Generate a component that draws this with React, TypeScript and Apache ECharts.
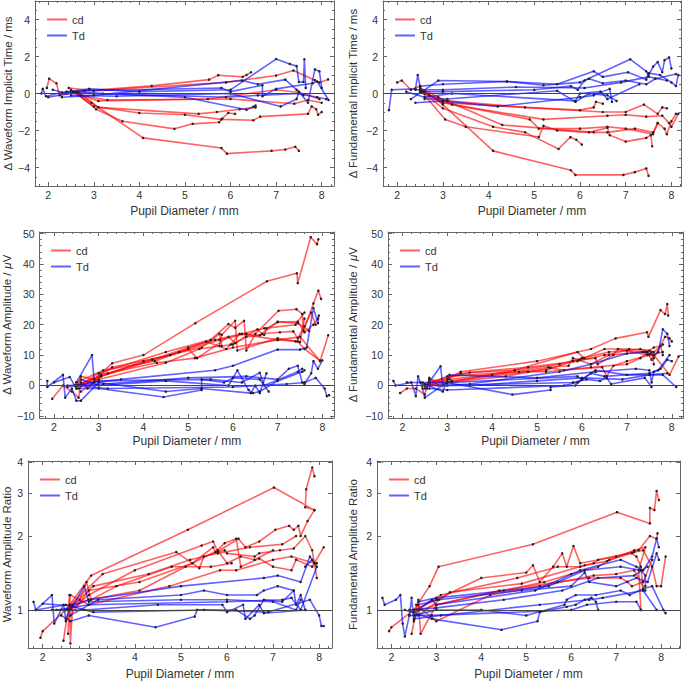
import React, { useEffect, useRef } from 'react';
import * as echarts from 'echarts';

type Pt = [number, number];
type Line = Pt[];

// ---------- data (pupil diameter mm, value) ----------
const wfImplicitCd: Line[] = [
  [[2.55, 0.1], [2.95, -0.5], [4.08, -2.4], [5.8, -2.95], [5.92, -3.25], [6.9, -3.1], [7.2, -3.03], [7.42, -2.88], [7.5, -3.1]],
  [[2.6, 0.05], [3.05, -0.85], [3.63, -1.5], [4.77, -1.91], [5.17, -1.64], [5.75, -1.55], [5.82, -1.35], [5.95, -1.05], [6.1, -1.1]],
  [[2.5, 0.2], [3.0, -0.7], [4.0, -1.05], [5.0, -1.15], [5.8, -1.4], [6.5, -1.45], [6.65, -1.25], [7.7, -1.1], [7.78, -0.7], [7.88, -0.85], [7.92, -1.15], [8.0, -1.0]],
  [[2.65, 0.1], [3.1, -0.75], [5.3, -1.1], [5.7, -1.0], [6.2, -0.85], [6.55, -0.75]],
  [[1.97, 0.3], [2.02, 0.8], [2.18, 0.55], [2.25, -0.1], [2.6, 0.1], [4.27, 0.41], [5.53, 0.75], [5.73, 0.99], [6.27, 0.9], [6.35, 1.0], [6.45, 1.15]],
  [[2.45, 0.3], [3.0, 0.15], [5.9, 0.6], [7.0, 0.97], [7.38, 1.24], [7.85, 0.72], [7.95, 0.6], [8.14, 0.76]],
  [[2.55, 0.05], [3.1, -0.4], [5.5, -0.3], [7.0, 0.2], [7.5, 0.05], [7.95, -0.3]],
  [[2.7, -0.1], [3.3, -0.35], [6.0, -0.3], [7.4, -0.55], [7.7, -0.35], [8.0, -0.5]],
];
const wfImplicitTd: Line[] = [
  [[1.85, 0.0], [1.88, 0.25], [1.95, -0.15], [2.3, 0.05], [2.9, 0.25], [4.0, 0.1], [6.0, 0.2], [7.0, 1.86], [7.3, 1.6], [7.45, 1.48], [7.5, 0.62], [7.6, 0.62], [7.62, 1.85], [7.65, 0.3]],
  [[2.1, 0.2], [2.4, 0.0], [3.0, 0.0], [5.0, -0.2], [6.35, -0.88], [6.5, -0.72], [6.55, -0.65]],
  [[2.5, -0.1], [3.5, -0.15], [6.0, 0.0], [7.1, -0.7], [7.45, -0.3], [7.5, 0.1], [7.7, -0.5], [7.85, 1.3], [7.95, 1.2], [8.0, 0.3]],
  [[2.3, -0.2], [3.0, -0.1], [6.25, 0.7], [6.6, 0.5], [7.2, 0.75], [7.45, 0.2], [7.6, -0.1]],
  [[2.0, -0.2], [2.8, 0.15], [5.8, 0.3], [6.0, 0.1], [6.7, 0.45], [6.7, -0.15], [7.0, 0.25], [7.8, 0.55], [7.9, 0.65], [8.15, -0.35]],
  [[2.4, 0.1], [3.2, 0.0], [5.9, -0.2], [6.6, -0.1], [7.5, 0.0], [7.9, -0.2], [8.1, -0.3]],
];

const fdImplicitCd: Line[] = [
  [[2.6, 0.1], [3.0, -0.6], [4.1, -3.1], [5.8, -4.15], [5.9, -4.4], [6.95, -4.4], [7.2, -4.25], [7.45, -4.05], [7.5, -4.45]],
  [[2.5, 0.2], [3.05, -1.4], [3.5, -1.8], [5.1, -2.35], [5.2, -1.75], [5.5, -2.0], [6.2, -2.1], [6.6, -1.85], [6.65, -2.25], [7.0, -2.6], [7.45, -2.4], [7.55, -2.25], [7.58, -2.85]],
  [[2.55, 0.1], [3.0, -0.8], [4.1, -1.8], [4.8, -2.1], [5.53, -3.0], [5.79, -2.36], [5.92, -2.5], [6.04, -2.76]],
  [[2.5, 0.2], [3.0, -0.5], [4.9, -1.4], [5.1, -1.9], [6.0, -1.9], [6.6, -1.8], [7.0, -1.9], [7.6, -2.2], [7.7, -1.6], [7.85, -1.9], [7.9, -2.2], [8.0, -1.5], [8.1, -1.1]],
  [[2.6, 0.0], [3.1, -0.4], [4.8, -0.75], [6.0, -0.9], [6.3, -0.75], [6.35, -0.45], [6.5, -0.55]],
  [[2.7, -0.1], [3.0, -0.5], [6.5, -1.0], [7.0, -1.0], [7.4, -0.6], [7.7, -1.1], [7.8, -0.75], [7.9, -0.8]],
  [[2.0, 0.6], [2.1, 0.7], [2.3, 0.2], [2.5, 0.4], [2.6, 0.0], [3.2, -0.6], [5.2, -1.4], [6.6, -1.2], [7.0, -1.15], [7.45, -1.25], [7.8, -1.2], [7.95, -1.6], [8.0, -1.8], [8.15, -1.1]],
  [[2.5, 0.3], [2.9, -0.2], [4.3, -1.7], [6.3, -2.1], [6.6, -2.1], [7.2, -1.9], [7.6, -2.1], [7.7, -1.6]],
];
const fdImplicitTd: Line[] = [
  [[1.82, -0.9], [1.88, 0.2], [2.4, 0.25], [2.45, 1.0], [2.5, 0.4], [3.0, 0.5], [4.4, 0.65], [5.2, 0.45], [6.0, 0.6], [7.1, 1.85], [7.45, 1.2], [7.5, 1.0], [7.6, 1.45], [7.7, 1.7], [7.8, 1.15], [7.85, 1.8], [7.95, 1.95], [8.0, 1.35]],
  [[2.3, -0.3], [2.9, 0.7], [4.4, 0.65], [5.5, 0.5], [6.3, 1.2], [6.5, 0.9], [7.05, 1.15], [7.45, 0.75], [7.5, 1.1], [7.75, 1.0], [8.0, 0.6], [8.1, 0.4], [8.15, 1.0]],
  [[2.4, -0.5], [3.0, -0.4], [4.2, -0.7], [6.0, -0.2], [6.3, -0.1], [6.65, 0.25], [6.7, -0.45]],
  [[2.5, 0.1], [3.0, 0.1], [5.0, 0.2], [5.8, 0.4], [5.95, 0.2], [6.1, 0.7], [6.2, 0.8], [6.5, 0.55], [7.0, 0.7], [7.45, 0.5], [7.65, 0.8], [8.1, 1.05]],
  [[2.2, 0.1], [2.6, -0.2], [3.2, 0.0], [5.9, -0.4], [6.0, 0.0], [6.45, 0.1], [6.6, -0.3], [7.3, 0.5]],
  [[2.6, -0.3], [3.1, -0.3], [5.5, 0.15], [5.9, -0.45], [6.2, 0.0], [6.6, -0.1], [6.8, -0.4]],
  [[2.4, 0.2], [3.0, 0.2], [4.6, 0.35], [6.1, 0.3], [6.9, 0.6], [7.5, 0.9], [7.9, 0.7]],
];

const wfAmpCd: Line[] = [
  [[2.5, -1], [2.6, 3], [2.9, 2], [3.3, 7.3], [4.0, 10], [5.16, 20.5], [6.76, 34.3], [7.43, 36.9], [7.45, 33.7], [7.74, 48.8], [7.88, 46.5], [7.91, 48.1]],
  [[2.55, 0], [3.0, 4], [4.5, 11], [5.5, 15], [5.9, 20.2], [6.05, 19], [6.25, 21.3], [6.3, 11.5], [6.5, 17], [7.02, 24.6], [7.42, 25.1], [7.55, 23.5], [7.58, 18], [7.8, 27], [7.91, 31.2], [7.97, 28.5]],
  [[2.6, -2], [3.05, 3], [4.0, 8], [5.3, 12.5], [5.7, 17], [5.75, 13], [6.0, 13.5], [6.3, 16], [6.7, 16.7], [6.75, 18.8], [7.0, 20.8], [7.45, 21], [7.6, 17.5], [7.8, 20], [7.9, 22]],
  [[2.5, 1], [3.1, 5], [4.25, 8], [5.0, 12], [5.2, 9], [5.9, 16], [6.05, 14], [6.55, 18.5], [6.65, 17], [7.05, 17.5], [7.35, 17.8], [7.45, 15.5], [7.6, 19.5], [7.75, 24], [7.85, 20]],
  [[2.6, 0], [3.0, 2], [4.5, 7.5], [5.25, 12], [5.7, 13], [5.75, 16.7], [6.05, 21.3], [6.1, 11.5], [7.0, 15.5], [7.4, 14.5], [7.5, 14.3], [7.6, 22]],
  [[2.45, 0], [3.05, 3], [4.8, 11], [5.4, 14.5], [5.85, 12], [5.95, 13.5], [6.15, 17], [7.0, 15], [7.5, 16], [7.95, 8], [8.13, 16.5]],
  [[1.96, -4.4], [2.2, 0], [2.4, -2], [2.55, -4], [2.6, 1], [2.75, -1], [3.05, 3.5], [4.3, 7.5], [5.15, 9], [6.0, 12.5], [7.0, 15], [7.45, 14.5], [7.6, 12], [7.95, 8.2]],
  [[2.5, 0], [3.2, 4], [4.2, 8.5], [5.0, 12.5], [5.6, 15], [6.2, 17], [6.7, 18.8], [7.4, 20], [7.6, 24]],
  [[2.55, -1], [3.3, 6], [4.6, 10], [5.7, 15], [6.3, 17], [6.6, 16.5], [7.0, 21], [7.45, 20.5], [7.7, 18]],
];
const wfAmpTd: Line[] = [
  [[2.5, 1], [2.85, 10], [2.9, 1], [3.5, 2], [5.6, 5], [6.0, 6.5], [7.0, 11.8], [7.5, 11.8], [7.65, 12.5], [7.8, 25.5], [7.9, 20.5], [7.92, 23]],
  [[1.85, 1.5], [1.85, -0.5], [2.2, 3.5], [2.25, -4], [2.4, -1], [2.5, -5], [2.6, -5], [3.0, 1], [4.5, -2], [5.3, -1], [6.4, -2.5], [6.5, 0], [6.6, -2.5], [6.75, 4]],
  [[2.0, 1], [2.35, 2.8], [2.5, -1], [3.0, -1], [4.45, -3.8], [5.3, -1.5], [5.3, 2], [5.8, 1], [6.0, 2.5], [6.6, 2], [6.8, -2]],
  [[2.3, 0], [3.1, 0.5], [5.0, 2.5], [6.3, 3], [7.0, 2], [7.25, 5.5], [7.45, 6.5], [7.55, 1], [7.6, 0.5], [7.75, 4], [7.8, 8], [7.9, 5.5], [8.0, 8.3]],
  [[2.6, 2], [3.0, 0], [4.5, 1.5], [5.9, 0], [6.1, 5], [6.35, -1.5], [6.45, -2.5], [6.6, -2], [7.0, 1.5], [7.55, 4.5], [7.6, 5]],
  [[2.5, 0], [3.2, -1], [6.0, -0.5], [7.2, 0.5], [7.6, 1], [7.85, 2.5], [8.05, -1], [8.1, -3.5], [8.15, -3.2]],
  [[2.3, -0.5], [3.0, 1.5], [5.5, 2], [6.2, 1], [6.6, 4.2], [6.7, 0], [7.45, 4.5], [7.55, 5.5]],
];

const fdAmpCd: Line[] = [
  [[2.6, 0], [3.0, 2], [3.3, 4.5], [5.0, 8], [6.2, 12], [6.75, 15.5], [7.45, 17.5], [7.48, 16], [7.75, 24.8], [7.85, 23.5], [7.9, 26.8], [7.92, 23]],
  [[2.5, 0], [3.0, 1], [4.5, 5], [5.9, 11], [6.05, 9], [6.5, 12], [7.05, 12], [7.5, 11.5], [7.6, 9], [7.85, 16], [7.95, 15.5], [8.0, 14.5]],
  [[2.5, 0], [3.0, 3], [4.6, 4.5], [5.2, 5], [5.8, 8], [5.95, 8.5], [6.3, 9], [6.35, 7], [6.7, 10], [6.8, 12], [7.45, 10], [7.55, 11], [7.6, 7]],
  [[2.45, 0], [3.05, 2], [4.0, 3.5], [5.25, 6], [5.7, 6.5], [5.8, 9], [6.2, 7], [6.6, 10], [7.35, 11], [7.6, 10], [7.95, 3.5], [8.15, 9.5]],
  [[2.55, -1], [2.6, 2], [3.0, 1], [4.3, 3], [5.3, 5.8], [5.6, 5], [6.45, 6], [6.55, 3], [6.7, 6.5], [7.0, 8], [7.5, 10], [7.8, 11]],
  [[1.95, -2.5], [2.1, -1], [2.3, -1], [2.5, -3], [2.6, 2.5], [2.8, 0], [3.1, 1.5], [4.8, 4.5], [5.2, 4.5], [6.2, 6], [7.0, 7], [7.3, 9], [7.6, 12.5], [7.75, 13], [7.8, 10]],
  [[2.5, 0.5], [3.3, 4], [4.5, 5], [5.5, 7], [6.0, 9], [6.6, 11], [7.3, 12], [7.6, 11], [7.8, 13.5]],
  [[2.6, 1], [3.5, 4.3], [4.8, 6], [5.9, 8], [6.5, 10], [7.0, 11.5], [7.45, 11], [7.55, 8.5]],
];
const fdAmpTd: Line[] = [
  [[2.5, -1], [2.85, 6.3], [2.9, 0], [3.5, 0.5], [5.5, 4.5], [6.2, 7], [7.0, 10.5], [7.4, 11], [7.6, 10], [7.7, 11], [7.8, 18.5], [7.9, 17], [7.95, 13]],
  [[1.8, 1.5], [1.85, 0], [2.2, 1], [2.3, -3.5], [2.35, 3], [2.45, -1], [2.5, -4], [3.0, 1], [4.45, -3], [5.3, -1.5], [5.3, -0.5], [5.85, 0], [6.0, 2]],
  [[2.1, 1], [2.4, 1], [2.9, -2], [3.05, 3.5], [5.0, 2.5], [6.3, 4.5], [7.2, 5.5], [7.5, 5], [7.55, 1], [7.6, 4.5], [7.75, 5.5], [7.9, 8.5], [8.0, 8]],
  [[2.5, 0], [3.0, 0], [5.8, 1], [6.1, 2], [6.4, 1.5], [6.55, 2.5], [6.65, 0.5], [7.4, 2.5], [7.55, -0.5]],
  [[2.45, 1], [3.1, 1], [5.9, 3], [6.0, 2], [6.3, 5], [7.0, 3.5], [7.8, 3.5], [8.1, -0.5]],
  [[2.6, -1], [3.0, -1.5], [5.6, 0], [5.9, 1], [6.2, 4], [6.5, 3], [7.5, 4], [7.7, 5], [7.95, 10]],
  [[2.5, 0], [3.5, 0], [5.0, 1.5], [6.0, 2.5], [6.9, 2], [7.5, 3.5], [7.9, 4]],
];

const wfRatioCd: Line[] = [
  [[1.95, 0.77], [2.0, 0.82], [2.5, 1.0], [3.05, 1.38], [5.15, 2.12], [7.02, 3.15], [7.9, 2.55], [7.7, 2.62], [7.72, 3.1], [7.85, 3.8], [7.9, 3.5]],
  [[2.6, 1.0], [3.0, 1.15], [4.0, 1.45], [5.45, 1.83], [5.7, 1.9], [5.8, 1.73], [6.25, 1.95], [6.4, 1.8], [6.7, 1.9], [7.05, 2.12], [7.35, 2.2], [7.45, 2.12], [7.55, 2.2], [7.6, 2.0], [7.75, 2.3], [7.9, 2.55]],
  [[2.6, 1.05], [3.3, 1.4], [4.9, 1.72], [5.4, 1.48], [5.5, 1.65], [5.95, 1.75], [6.0, 1.7], [6.6, 1.65], [6.7, 1.7], [7.15, 1.75], [7.45, 1.78], [7.7, 2.0], [7.85, 1.75], [7.95, 1.35]],
  [[2.5, 0.9], [3.0, 1.2], [4.1, 1.3], [5.25, 1.55], [5.7, 1.8], [5.75, 1.72], [5.95, 1.87], [6.2, 1.95], [6.3, 1.5], [6.7, 1.62], [7.0, 1.5], [7.4, 1.45], [7.5, 1.6], [7.85, 1.5], [8.1, 1.8]],
  [[2.45, 0.75], [2.6, 1.15], [3.0, 1.05], [4.75, 1.25], [5.85, 1.45], [6.2, 1.45], [7.0, 1.6], [7.4, 1.65], [7.9, 1.55]],
  [[2.5, 1.0], [3.0, 1.1], [4.1, 1.2], [5.1, 1.5], [5.8, 1.75], [6.0, 1.55], [6.3, 1.65], [6.6, 1.6], [7.0, 1.75]],
  [[2.55, 0.8], [2.58, 1.15], [2.6, 0.73], [2.65, 1.05], [2.8, 1.1], [2.95, 1.3], [3.05, 1.1], [3.6, 1.25], [4.8, 1.5], [5.65, 1.5], [6.1, 1.55]],
  [[2.55, 1.0], [3.1, 1.25], [4.3, 1.4], [5.2, 1.6], [5.8, 1.7], [6.5, 1.8], [7.2, 1.85], [7.5, 2.0]],
];
const wfRatioTd: Line[] = [
  [[1.8, 1.08], [1.85, 1.0], [2.2, 1.15], [2.25, 0.88], [2.45, 1.05], [2.5, 0.92], [2.6, 1.0], [2.9, 1.25], [3.0, 1.08], [5.0, 1.1], [6.0, 1.1], [7.0, 1.08], [7.5, 1.0], [7.6, 1.1]],
  [[2.0, 1.06], [2.6, 1.04], [3.0, 1.1], [5.0, 1.25], [6.8, 1.35], [7.1, 1.38], [7.6, 1.3], [7.8, 1.65], [7.9, 1.55], [7.95, 1.55]],
  [[2.4, 0.95], [2.6, 0.9], [3.0, 0.95], [4.45, 0.85], [5.3, 0.94], [5.35, 1.0], [6.2, 1.0], [6.5, 0.92], [6.6, 0.95], [6.8, 1.1], [7.2, 1.08], [7.45, 1.2], [7.5, 1.05], [7.6, 1.15], [7.7, 1.0]],
  [[2.2, 1.0], [2.9, 1.0], [4.5, 1.05], [5.9, 1.05], [6.0, 0.98], [6.35, 1.05], [6.4, 0.92], [6.7, 1.05], [6.8, 0.97], [7.7, 1.0]],
  [[1.85, 1.0], [2.5, 1.05], [3.1, 0.98], [5.5, 1.0], [6.9, 0.98], [7.8, 1.1], [8.0, 0.95], [8.05, 0.86], [8.1, 0.86]],
  [[2.3, 1.0], [3.0, 1.05], [6.0, 1.08], [7.2, 1.1], [7.4, 1.12], [7.6, 1.0], [7.95, 1.5], [7.85, 1.6], [7.7, 1.5]],
  [[2.6, 0.95], [3.2, 1.1], [5.0, 1.15], [5.5, 1.2], [6.0, 1.15], [6.65, 1.15], [6.8, 1.2], [7.1, 1.25], [7.45, 1.2]],
];

const fdRatioCd: Line[] = [
  [[1.95, 0.82], [2.0, 0.85], [2.5, 1.0], [2.85, 1.25], [3.05, 1.5], [5.15, 1.85], [7.02, 2.5], [7.75, 2.25], [7.75, 2.6], [7.85, 2.55], [7.9, 3.05], [7.95, 2.8]],
  [[2.5, 1.0], [3.0, 1.1], [4.0, 1.35], [5.0, 1.42], [5.15, 1.52], [5.3, 1.3], [5.6, 1.5], [5.8, 1.7], [5.9, 1.5], [6.05, 1.82], [6.2, 1.55], [7.0, 1.65], [7.5, 1.75], [7.75, 2.0], [7.9, 1.95], [7.92, 2.05]],
  [[2.55, 1.0], [3.1, 1.15], [4.8, 1.35], [5.7, 1.5], [6.2, 1.5], [6.5, 1.55], [6.6, 1.6], [7.4, 1.72], [7.6, 1.75], [7.8, 1.5], [7.9, 1.25], [8.0, 1.25], [8.1, 1.65]],
  [[2.5, 0.98], [3.0, 1.05], [4.5, 1.2], [5.4, 1.3], [6.0, 1.4], [6.6, 1.5], [6.85, 1.6], [7.35, 1.7], [7.45, 1.65], [7.55, 1.5], [7.6, 1.2]],
  [[2.45, 0.8], [2.6, 1.1], [2.65, 0.8], [3.0, 1.05], [4.4, 1.2], [5.7, 1.3], [6.4, 1.35], [7.1, 1.35], [7.25, 1.3], [7.35, 1.25], [7.6, 1.3], [7.8, 1.6]],
  [[2.6, 0.95], [3.3, 1.18], [4.9, 1.28], [6.3, 1.52], [6.8, 1.58], [7.4, 1.75], [7.65, 1.8], [7.5, 1.45], [7.55, 1.0]],
  [[2.55, 1.05], [3.0, 0.9], [4.2, 1.15], [5.3, 1.25], [6.5, 1.38], [7.0, 1.4], [7.4, 1.45], [7.65, 1.2]],
];
const fdRatioTd: Line[] = [
  [[1.8, 1.12], [1.85, 1.05], [2.1, 1.1], [2.2, 1.15], [2.25, 0.88], [2.3, 0.78], [2.4, 0.95], [2.45, 1.12], [2.5, 0.9], [2.6, 1.0], [2.9, 1.1], [3.0, 1.05], [5.2, 1.2], [6.2, 1.45], [7.1, 1.6], [7.45, 1.5], [7.6, 1.45], [7.8, 1.65], [7.9, 1.95], [7.95, 1.8]],
  [[2.3, 1.0], [2.9, 0.92], [4.45, 0.83], [5.25, 0.9], [5.3, 0.98], [5.9, 1.03], [6.1, 1.05], [6.3, 1.1], [6.45, 1.12], [6.55, 1.08], [6.6, 1.0]],
  [[2.5, 0.95], [3.0, 1.0], [4.0, 1.0], [5.0, 0.95], [5.85, 1.05], [5.9, 1.1], [6.1, 1.15], [6.55, 1.15], [7.1, 1.2], [7.3, 1.15], [7.6, 1.22], [7.8, 1.25], [8.05, 1.0], [8.1, 0.97]],
  [[2.6, 1.05], [3.05, 1.1], [4.9, 1.2], [6.0, 1.25], [6.3, 1.42], [6.4, 1.3], [7.0, 1.25], [7.45, 1.35], [7.7, 1.3], [7.9, 1.7], [7.95, 1.6]],
  [[2.4, 0.95], [2.9, 0.95], [6.0, 1.0], [6.35, 1.05], [7.0, 1.08], [7.45, 1.08], [7.55, 1.0]],
  [[2.6, 1.08], [3.0, 1.12], [5.5, 1.25], [6.3, 1.45], [7.1, 1.5], [7.55, 1.45], [7.65, 1.38], [7.65, 1.25]],
  [[2.5, 0.92], [3.1, 0.95], [5.3, 1.05], [6.4, 1.1], [6.7, 1.12], [7.6, 1.2], [7.9, 1.0]],
  [[2.4, 1.0], [3.0, 1.02], [4.5, 1.1], [5.8, 1.2], [6.6, 1.35], [7.4, 1.38], [7.7, 1.5]],
];

const seriesNames = ['cd', 'Td'];
const xAxisTitle = 'Pupil Diameter / mm';
const yAxisTitles = [
  'Δ Waveform Implicit Time / ms',
  'Δ Fundamental Implicit Time / ms',
  'Δ Waveform Amplitude / {i|μ}V',
  'Δ Fundamental Amplitude / {i|μ}V',
  'Waveform Amplitude Ratio',
  'Fundamental Amplitude Ratio',
];
const ratioExtraTick = 3;

// ---------- layout / style ----------
const RED = 'rgba(255,0,0,0.62)';
const BLUE = 'rgba(0,0,255,0.62)';
const FRAME = '#666';
const TEXT = '#333';
const FONT = '"Liberation Sans", Arial, sans-serif';

interface Panel {
  cd: Line[]; td: Line[];
  grid: { left: number; top: number; width: number; height: number };
  x: [number, number]; y: [number, number]; yStep: number; log: boolean; ref: number;
  yGap: number; xGap: number;
}

const panels: Panel[] = [
  { cd: wfImplicitCd, td: wfImplicitTd, grid: { left: 35, top: 1, width: 299, height: 185 }, x: [1.71, 8.27], y: [-5, 5], yStep: 2, log: false, ref: 0, yGap: 20, xGap: 19 },
  { cd: fdImplicitCd, td: fdImplicitTd, grid: { left: 383, top: 1, width: 298, height: 185 }, x: [1.69, 8.21], y: [-5, 5], yStep: 2, log: false, ref: 0, yGap: 24, xGap: 19 },
  { cd: wfAmpCd, td: wfAmpTd, grid: { left: 39, top: 232, width: 295, height: 186 }, x: [1.68, 8.26], y: [-10.7, 50.5], yStep: 10, log: false, ref: 0, yGap: 24, xGap: 17 },
  { cd: fdAmpCd, td: fdAmpTd, grid: { left: 388, top: 232, width: 295, height: 186 }, x: [1.68, 8.25], y: [-10.7, 50.5], yStep: 10, log: false, ref: 0, yGap: 29, xGap: 17 },
  { cd: wfRatioCd, td: wfRatioTd, grid: { left: 28, top: 461, width: 304, height: 187 }, x: [1.68, 8.28], y: [0.7, 4.04], yStep: 1, log: true, ref: 1, yGap: 15, xGap: 20 },
  { cd: fdRatioCd, td: fdRatioTd, grid: { left: 377, top: 461, width: 303, height: 187 }, x: [1.68, 8.42], y: [0.7, 4.04], yStep: 1, log: true, ref: 1, yGap: 18, xGap: 20 },
];

const fmtNum = (v: number) => (v < 0 ? '\u2212' + Math.abs(v) : String(v));

function buildOption() {
  const grid: any[] = [];
  const xAxis: any[] = [];
  const yAxis: any[] = [];
  const series: any[] = [];
  const legend: any[] = [];

  panels.forEach((p, i) => {
    grid.push({ ...p.grid, containLabel: false });
    const tickBase = {
      axisTick: { show: true, inside: true, length: 4, lineStyle: { color: FRAME } },
      axisLine: { show: true, onZero: false, lineStyle: { color: FRAME, width: 1 } },
      splitLine: { show: false },
    };
    const xCommon = {
      ...tickBase,
      gridIndex: i, type: 'value', min: p.x[0], max: p.x[1], minInterval: 1, maxInterval: 1,
      minorTick: { show: true, splitNumber: 5, length: 2, lineStyle: { color: FRAME } },
    };
    const xb = xAxis.length;
    xAxis.push({
      ...xCommon, position: 'bottom',
      axisLabel: { show: true, showMinLabel: false, showMaxLabel: false, margin: 3, fontSize: 10.5, color: TEXT, fontFamily: FONT },
      name: xAxisTitle, nameLocation: 'middle', nameGap: p.xGap,
      nameTextStyle: { fontSize: 12, color: TEXT, fontFamily: FONT },
    });
    xAxis.push({ ...xCommon, position: 'top', axisLabel: { show: false } });

    const yCommon: any = p.log
      ? { ...tickBase, gridIndex: i, type: 'log', logBase: 2, min: p.y[0], max: p.y[1] }
      : {
          ...tickBase, gridIndex: i, type: 'value', min: p.y[0], max: p.y[1],
          minInterval: p.yStep, maxInterval: p.yStep,
          minorTick: { show: true, splitNumber: p.yStep === 2 ? 4 : 5, length: 2, lineStyle: { color: FRAME } },
        };
    const yl = yAxis.length;
    yAxis.push({
      ...yCommon, position: 'left',
      axisLabel: { show: true, showMinLabel: false, showMaxLabel: false, margin: 5, fontSize: 10.5, color: TEXT, fontFamily: FONT, formatter: fmtNum },
      name: yAxisTitles[i], nameLocation: 'middle', nameGap: p.yGap, nameRotate: 90,
      nameTextStyle: { fontSize: 11.5, color: TEXT, fontFamily: FONT, rich: { i: { fontStyle: 'italic', fontSize: 11.5, color: TEXT, fontFamily: FONT } } },
    });
    yAxis.push({ ...yCommon, position: 'right', axisLabel: { show: false } });
    if (p.log) {
      yAxis.push({
        gridIndex: i, type: 'log', logBase: ratioExtraTick, min: p.y[0], max: p.y[1], position: 'left',
        axisLine: { show: false }, splitLine: { show: false },
        axisTick: { show: true, inside: true, length: 4, lineStyle: { color: FRAME } },
        axisLabel: {
          show: true, showMinLabel: false, showMaxLabel: false, margin: 5, fontSize: 10.5, color: TEXT, fontFamily: FONT,
          formatter: (v: number) => (Math.abs(v - ratioExtraTick) < 1e-6 ? String(ratioExtraTick) : ''),
        },
      });
      yAxis.push({
        gridIndex: i, type: 'log', logBase: ratioExtraTick, min: p.y[0], max: p.y[1], position: 'right',
        axisLine: { show: false }, splitLine: { show: false },
        axisTick: { show: true, inside: true, length: 4, lineStyle: { color: FRAME } },
        axisLabel: { show: false },
      });
    }

    const groups: [Line[], string, string][] = [[p.cd, seriesNames[0], RED], [p.td, seriesNames[1], BLUE]];
    let first = true;
    groups.forEach(([lines, name, color]) => {
      lines.forEach((ln) => {
        const s: any = {
          type: 'line', name, xAxisIndex: xb, yAxisIndex: yl, data: ln,
          symbol: 'circle', symbolSize: 2.5, showSymbol: true,
          itemStyle: { color: '#222' },
          lineStyle: { color, width: 1.6 },
          emphasis: { disabled: true }, silent: true, z: 2,
        };
        if (first) {
          s.markLine = {
            silent: true, symbol: ['none', 'none'], label: { show: false },
            lineStyle: { color: '#444', width: 1.2, type: 'solid' },
            data: [{ yAxis: p.ref }],
          };
          first = false;
        }
        series.push(s);
      });
    });

    legend.push({
      orient: 'vertical', left: p.grid.left + 7, top: p.grid.top + 8,
      icon: 'rect', itemWidth: 20, itemHeight: 2, itemGap: 5, selectedMode: false,
      textStyle: { fontSize: 11, color: TEXT, fontFamily: FONT },
      data: [
        { name: seriesNames[0], itemStyle: { color: RED } },
        { name: seriesNames[1], itemStyle: { color: BLUE } },
      ],
    });
  });

  return {
    animation: false,
    backgroundColor: '#fff',
    textStyle: { fontFamily: FONT },
    grid, xAxis, yAxis, series, legend,
  };
}

export default function App() {
  const ref = useRef<HTMLDivElement>(null);
  useEffect(() => {
    if (!ref.current) return;
    const chart = echarts.init(ref.current, null, { renderer: 'svg' });
    chart.setOption(buildOption() as any);
    return () => chart.dispose();
  }, []);
  return <div ref={ref} style={{ position: 'fixed', left: 0, top: 0, width: 685, height: 683 }} />;
}
